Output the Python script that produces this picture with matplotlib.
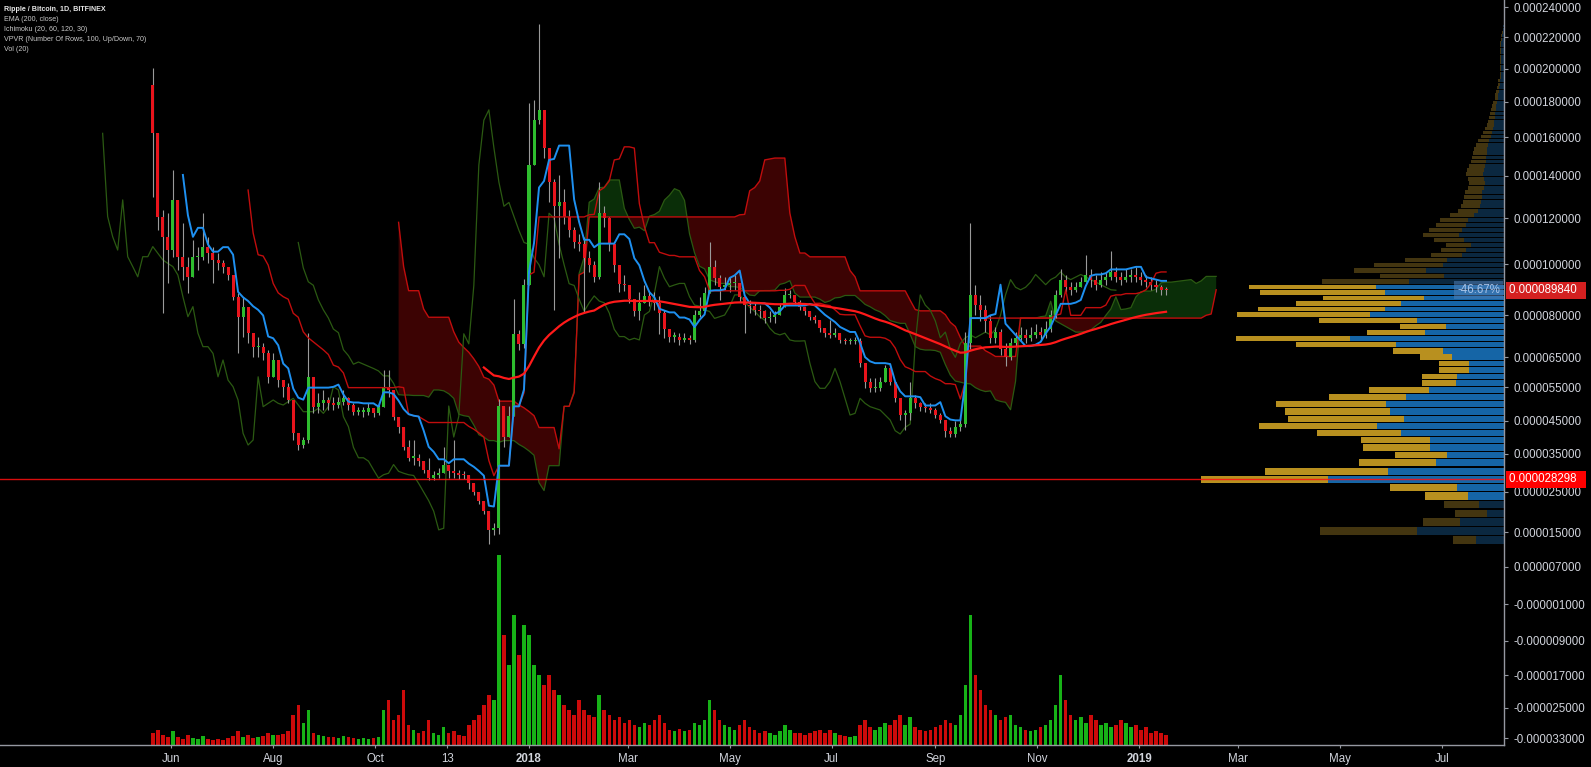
import numpy as np
import pandas as pd
import matplotlib
matplotlib.use('Agg')
import matplotlib.pyplot as plt
import matplotlib.dates as mdates
from matplotlib.transforms import blended_transform_factory as btf
from matplotlib.ticker import NullLocator

plt.rcParams['font.family'] = ['Liberation Sans', 'DejaVu Sans']

# ---------------- data (prices in units of 1e-6 BTC) ----------------
start_date = '2017-05-20'
bar_days = 3
open_first = 190.2
close = [162.1, 120.8, 112, 106.2, 128.7, 103.3, 99.1, 95.1, 103.3, 103.3,
         107.7, 104.8, 101.9, 100.4, 99.1, 95.8, 87.3, 79.5, 83.4, 73.6,
         68.8, 68.8, 66.4, 58.5, 64.1, 57.4, 55.2, 51.2, 41.2, 37.7,
         39.2, 58.5, 49.2, 50.2, 51.2, 50.2, 49.7, 50.7, 51.7, 49.7,
         47.7, 47.7, 47.7, 48.7, 47.2, 49.2, 55.2, 54.2, 46.2, 43.2,
         37, 34, 34, 33.1, 30.8, 28.6, 29.5, 29.9, 32.2, 30.4,
         29.9, 29.5, 29.3, 27.2, 24.9, 22.8, 20.2, 15.6, 16.0, 49.4,
         40.1, 46.3, 73.4, 69.8, 91.7, 145.6, 169.6, 175.5, 154.5, 137.1,
         125.7, 127.5, 120.8, 114.7, 109.5, 108.7, 102.8, 99.8, 95.1, 122.4,
         120, 108.7, 99.8, 92.4, 91.7, 86.3, 81.6, 84.9, 87.6, 85.6,
         84.9, 80.9, 75, 72.4, 72.4, 71.2, 71.8, 71.2, 80.1, 81.5,
         88.6, 99.1, 94.5, 91.2, 91.9, 92.5, 92.5, 87.3, 84, 83.6,
         82.1, 81.5, 78.9, 79.5, 80.1, 83.4, 88, 88, 85.3, 83.1,
         81.5, 79.5, 78.3, 75.4, 73.6, 73, 73.6, 71.2, 70.8, 70.8,
         70.9, 63, 56.9, 54.7, 54.7, 56.9, 61.3, 56.9, 51.7, 46.7,
         47.2, 51.7, 50.2, 49.2, 48.7, 48.2, 46.7, 45.2, 42, 41,
         43, 44, 70, 88, 84, 82, 78, 72, 74, 68,
         65, 70, 72, 73, 72, 73, 74, 73, 75, 80,
         88, 94, 91, 90, 91, 93, 96, 94, 92, 94,
         95, 97, 95, 94, 95, 96, 95, 94, 93, 92,
         91, 90, 89.84]
high = [200.3, 158.5, 123.9, 122.5, 143.1, 120.8, 118, 103.3, 110.6, 107.7,
        122.4, 112, 107.7, 104.8, 101.9, 99.1, 93.8, 88.6, 87.3, 80.8,
        73.6, 72.4, 70, 67.6, 66.4, 63, 57.4, 56.3, 49.2, 40.2,
        40.2, 73.6, 56.3, 53.2, 54.2, 52.2, 52.2, 52.2, 54.2, 52.2,
        50.2, 49.2, 49.2, 50.2, 48.7, 50.2, 60.8, 60.8, 54.2, 46.2,
        42.2, 39.1, 39.1, 34.9, 32.2, 34, 30.4, 31.3, 37, 32.2,
        39.1, 30.8, 30.4, 29.5, 26.7, 24.9, 22.4, 19.8, 17.3, 51.5,
        46.3, 49.4, 86.3, 74.7, 94.4, 179.4, 181.5, 229, 175.5, 151,
        138.7, 140.4, 133.9, 123.7, 116.3, 113.3, 111.7, 105.8, 101.3, 137.1,
        125.7, 120.8, 105.8, 97.1, 95.7, 91.7, 86.3, 89, 91.7, 89,
        89, 87.6, 82.2, 74.1, 74.1, 73.6, 73.6, 73, 82.1, 87.3,
        91.2, 109.8, 101.9, 95.8, 95.1, 95.1, 95.8, 91.9, 87.3, 86,
        84.7, 84, 82.1, 81.5, 81.5, 84.7, 90.6, 89.9, 88, 86,
        83.4, 81.5, 80.1, 77.7, 75.4, 78.3, 75.4, 73.6, 71.8, 71.8,
        72.4, 71.8, 62.4, 58, 58, 58.5, 62.4, 61.9, 55.2, 51.2,
        48.2, 56.9, 52.7, 50.7, 50.2, 50.2, 48.7, 47.2, 45, 43,
        45, 46, 74, 118, 92, 88, 84, 80, 76, 75,
        70, 72, 74, 76, 75, 76, 77, 76, 78, 82,
        90, 98, 96, 93, 93, 95, 104, 98, 96, 97,
        97, 106, 99, 97, 98, 98, 99, 97, 96, 95,
        94, 92, 91]
low = [130.2, 114.9, 80.8, 92.7, 103.3, 97.8, 93.8, 88.6, 97.8, 97.8,
       101.9, 100.4, 92.5, 97.8, 96.5, 93.8, 86, 66.4, 72.4, 70,
       65.2, 65.2, 64.1, 56.3, 58.5, 55.2, 52.2, 50.2, 39.2, 36.2,
       36.7, 38.2, 47.2, 47.2, 48.2, 48.2, 48.2, 48.7, 49.7, 48.2,
       46.7, 46.7, 46.2, 46.7, 46.2, 46.7, 50.2, 52.2, 45.2, 41.2,
       36.2, 33.1, 32.2, 31.7, 29.9, 28.1, 28.1, 28.6, 30.4, 28.6,
       28.6, 28.4, 28.4, 25.8, 24.1, 21.9, 19.4, 12.3, 14.3, 14.7,
       37, 40.1, 46.3, 67.5, 68.5, 105.8, 147.4, 167.7, 149.2, 127.5,
       82.2, 102.8, 117.7, 111.7, 107.3, 105.8, 80.9, 97.1, 93.1, 94.4,
       116.2, 105.8, 97.1, 89, 89.7, 84.9, 79.6, 78.4, 84.9, 83.6,
       82.2, 73.4, 72, 70.6, 70.6, 69.4, 70.6, 69.8, 70.6, 79.5,
       81.5, 89.9, 91.9, 86, 89.9, 89.3, 89.9, 85.3, 73.6, 80.8,
       80.1, 78.9, 77.1, 77.7, 77.1, 80.8, 83.4, 86.7, 84.4, 82.1,
       80.1, 78.3, 77.1, 74.1, 72.4, 71.8, 72.1, 70.2, 69.8, 69.8,
       69.8, 61.9, 54.7, 53.7, 53.7, 54, 57.4, 55.8, 50.7, 45.2,
       42.2, 45.2, 48.7, 48, 47.7, 47.2, 45.7, 44.2, 40, 40,
       40, 42, 43, 68, 80, 78, 74, 70, 70, 66,
       62, 64, 69, 71, 70, 71, 72, 71, 72, 74,
       79, 87, 89, 88, 89, 91, 93, 91, 90, 91,
       92, 94, 93, 92, 93, 93, 93, 92, 91, 90,
       89, 88, 88]
volume = [12, 15, 10, 8, 14, 8, 6, 10, 7, 6,
          9, 6, 5, 6, 5, 7, 9, 14, 8, 10,
          7, 8, 9, 12, 10, 10, 11, 14, 30, 40,
          22, 35, 12, 10, 9, 8, 8, 7, 9, 8,
          7, 6, 7, 6, 7, 8, 35, 45, 25, 30,
          55, 20, 15, 12, 14, 25, 12, 10, 18, 12,
          14, 10, 9, 20, 25, 30, 40, 50, 45, 190,
          110, 80, 130, 90, 120, 110, 80, 70, 60, 70,
          55, 50, 40, 35, 30, 45, 35, 30, 28, 50,
          35, 30, 25, 28, 22, 25, 20, 18, 22, 20,
          25, 30, 22, 15, 14, 16, 14, 15, 22, 20,
          25, 45, 35, 25, 20, 18, 15, 20, 25, 18,
          15, 12, 14, 12, 10, 14, 20, 15, 12, 12,
          10, 12, 14, 15, 12, 15, 12, 10, 9, 8,
          9, 20, 25, 18, 15, 18, 22, 20, 25, 30,
          20, 28, 18, 15, 14, 15, 18, 20, 25, 22,
          20, 30, 60, 130, 70, 55, 40, 35, 30, 25,
          28, 30, 20, 18, 15, 14, 15, 18, 20, 25,
          40, 70, 45, 30, 25, 28, 22, 30, 25, 20,
          22, 18, 20, 25, 22, 18, 20, 15, 18, 12,
          14, 12, 10]

# Visible-range volume profile: 100 rows, up / down volume per row
vp_low, vp_high, vp_rows = 12.06, 228.56, 100
vp_up = [28, 87, 44, 17, 25, 36, 47, 176, 116, 68,
         57, 74, 74, 103, 127, 100, 114, 118, 98, 75,
         48, 47, 35, 35, 52, 61, 108, 154, 79, 58,
         87, 134, 119, 103, 80, 119, 128, 95, 60, 78,
         61, 57, 42, 38, 33, 40, 45, 42, 38, 36,
         30, 26, 24, 23, 22, 22, 20, 19, 20, 21,
         20, 19, 18, 18, 17, 17, 16, 15, 13, 12,
         11, 10, 10, 9, 9, 8, 8, 7, 6, 6,
         5, 5, 4, 4, 3, 3, 3, 3, 3, 3,
         3, 3, 3, 3, 3, 2, 2, 1, 1, 1]
vp_down = [23, 97, 37, 32, 35, 43, 67, 127, 123, 77,
           52, 67, 69, 84, 118, 116, 105, 110, 77, 60,
           34, 35, 30, 30, 32, 50, 100, 114, 58, 46,
           98, 133, 127, 105, 101, 125, 127, 87, 64, 72,
           69, 42, 31, 25, 25, 30, 36, 33, 30, 28,
           24, 20, 19, 18, 18, 17, 16, 16, 16, 17,
           17, 16, 15, 14, 14, 13, 12, 11, 10, 9,
           8, 7, 6, 6, 5, 5, 4, 4, 3, 3,
           3, 2, 2, 2, 1, 1, 1, 1, 1, 1,
           1, 1, 1, 1, 1, 1, 1, 1, 0, 0]
va_first_row, va_last_row = 5, 36
poc_price = 28.298
last_price = 89.84
range_label = '-46.67%'

ema_len_days = 200
ichi_days = (20, 60, 120, 30)

y_ticks = [-33, -25, -17, -9, -1, 7, 15, 25, 35, 45, 55, 65, 80, 100, 120,
           140, 160, 180, 200, 220, 240]
x_tick_dates = ['2017-06-01', '2017-08-01', '2017-10-01', '2017-11-13', '2018-01-01',
                '2018-03-01', '2018-05-01', '2018-07-01', '2018-09-01', '2018-11-01',
                '2019-01-01', '2019-03-01', '2019-05-01', '2019-07-01']
x_tick_labels = ['Jun', 'Aug', 'Oct', '13', '2018', 'Mar', 'May', 'Jul', 'Sep', 'Nov',
                 '2019', 'Mar', 'May', 'Jul']
legend_lines = ['Ripple / Bitcoin, 1D, BITFINEX', 'EMA (200, close)',
                'Ichimoku (20, 60, 120, 30)', 'VPVR (Number Of Rows, 100, Up/Down, 70)',
                'Vol (20)']

# ---------------- derived series ----------------
c = np.array(close, float)
o = np.concatenate([[open_first], c[:-1]])
h = np.maximum.reduce([np.array(high, float), o, c])
l = np.minimum.reduce([np.array(low, float), o, c])
v = np.array(volume, float)
n = len(c)
assert len(h) == n and len(l) == n and len(v) == n, (len(h), len(l), len(v), n)

t0 = pd.Timestamp(start_date)
day0 = mdates.date2num(t0)
x_mid = day0 + np.arange(n) * bar_days + (bar_days - 1) / 2

H = pd.Series(h); L = pd.Series(l)
def mid(p):
    return ((H.rolling(p).max() + L.rolling(p).min()) / 2).values
conv_n, base_n, spanb_n = [max(1, round(d / bar_days)) for d in ichi_days[:3]]
disp = ichi_days[3]
conv = mid(conv_n)
base = mid(base_n)
leadA = (conv + base) / 2
leadB = mid(spanb_n)

ema_n = round(ema_len_days / bar_days)
alpha = 2 / (ema_n + 1)
ema = np.full(n, np.nan)
ema[ema_n - 1] = c[:ema_n].mean()
for i in range(ema_n, n):
    ema[i] = alpha * c[i] + (1 - alpha) * ema[i - 1]

# ---------------- figure / scales ----------------
W, Hpx = 1591, 767
fig = plt.figure(figsize=(W / 100, Hpx / 100), dpi=100, facecolor='black')
rect = [0, 22 / Hpx, 1504 / W, 745 / Hpx]
ax_v = fig.add_axes(rect, label='vol')
ax_vp = fig.add_axes(rect, label='vp')
ax = fig.add_axes(rect, label='main')
ax_v.set_facecolor('black')
ax_vp.patch.set_visible(False)
ax.patch.set_visible(False)

# price-axis calibration (value -> pixel row from top), as in the TradingView scale
cal_vals = np.array([-60] + y_ticks + [300], float)
cal_rows = np.array([840.6, 738.3, 708, 675.3, 640.7, 604.3, 566.7, 532.3, 491.7, 454,
                     420.7, 387.3, 357.3, 315.3, 264.3, 218.3, 176, 137, 102, 68.7,
                     37.3, 7.3, -82.7])
fwd = lambda y: np.interp(y, cal_vals, -cal_rows)
inv = lambda t: np.interp(t, -cal_rows, cal_vals)
ylim = (float(inv(-745)), float(inv(0)))
for a in (ax, ax_vp):
    a.set_yscale('function', functions=(fwd, inv))
    a.set_ylim(*ylim)

jan1 = mdates.date2num(pd.Timestamp('2018-01-01'))
px_per_day = 1.672
xlim = (jan1 - 529 / px_per_day, jan1 + (1504 - 529) / px_per_day)
ax.set_xlim(*xlim)
ax_v.set_xlim(*xlim)

# ---------------- volume ----------------
up = c >= o
vcol = np.where(up, '#17b217', '#cc0a0a')
ax_v.bar(x_mid, v, width=bar_days * 0.7, align='center', color=vcol, linewidth=0)
ax_v.set_ylim(0, 745)
ax_v.axis('off')

# ---------------- volume profile ----------------
row_h = (vp_high - vp_low) / vp_rows
rows = np.arange(vp_rows)
centers = vp_low + (rows + 0.5) * row_h
in_va = (rows >= va_first_row) & (rows <= va_last_row)
up_col = np.where(in_va, '#1565a6', '#0b2840')
dn_col = np.where(in_va, '#b8901f', '#433510')
ax_vp.barh(centers, vp_up, height=row_h * 0.86, left=0, color=up_col, linewidth=0)
ax_vp.barh(centers, vp_down, height=row_h * 0.86, left=vp_up, color=dn_col, linewidth=0)
ax_vp.set_xlim(1504, 0)
ax_vp.axis('off')

# ---------------- Ichimoku ----------------
xa = x_mid + disp
ok = ~np.isnan(leadA) & ~np.isnan(leadB)
ax.fill_between(xa[ok], leadA[ok], leadB[ok], where=(leadA[ok] >= leadB[ok]),
                interpolate=True, color='#0a2e08', linewidth=0, zorder=1)
ax.fill_between(xa[ok], leadA[ok], leadB[ok], where=(leadA[ok] < leadB[ok]),
                interpolate=True, color='#3c0303', linewidth=0, zorder=1)
ax.plot(xa, leadA, color='#2b5a12', lw=0.9, zorder=2)
ax.plot(xa, leadB, color='#c00d0d', lw=1.0, zorder=2)
ax.plot(x_mid - disp, c, color='#2b5a12', lw=0.9, zorder=2)
ax.plot(x_mid, base, color='#c00d0d', lw=1.0, zorder=4)
ax.plot(x_mid, conv, color='#1e90f0', lw=1.4, zorder=4)

# ---------------- candles ----------------
ax.vlines(x_mid, l, h, color='#9a9a9a', lw=0.8, zorder=3)
body_lo = np.minimum(o, c)
body_h = np.maximum(np.abs(c - o), 0.4)
ccol = np.where(up, '#2ebd2e', '#e8141c')
ax.bar(x_mid, body_h, bottom=body_lo, width=bar_days * 0.6, color=ccol, linewidth=0, zorder=3)

# ---------------- EMA ----------------
ax.plot(x_mid, ema, color='#ff1a1a', lw=1.6, zorder=5)

# ---------------- POC line ----------------
ax.axhline(poc_price, color='#ff1010', lw=1.0, alpha=0.85, zorder=6)

# ---------------- axes styling ----------------
for s in ('top', 'left'):
    ax.spines[s].set_visible(False)
for s in ('right', 'bottom'):
    ax.spines[s].set_color('#9598a1')
    ax.spines[s].set_linewidth(1.0)
ax.yaxis.tick_right()
ax.set_yticks(y_ticks)
ax.set_yticklabels([f'{t * 1e-6:.9f}' for t in y_ticks])
ax.yaxis.set_minor_locator(NullLocator())
ax.tick_params(axis='y', colors='#9598a1', labelcolor='#d1d4dc', labelsize=8.3,
               length=3, width=0.8, pad=4)
ax.set_xticks(mdates.date2num(pd.to_datetime(x_tick_dates)))
ax.set_xticklabels(x_tick_labels)
ax.xaxis.set_minor_locator(NullLocator())
ax.tick_params(axis='x', colors='#9598a1', labelcolor='#d1d4dc', labelsize=8.3,
               length=2, width=0.8, pad=4)
for lab in ax.get_xticklabels():
    if lab.get_text() in ('2018', '2019'):
        lab.set_fontweight('bold')

# ---------------- price labels ----------------
bt = btf(ax.transAxes, ax.transData)
ax.text(1.0 + 5 / 1504, last_price, f'{last_price * 1e-6:.9f}  ', transform=bt, ha='left',
        va='center', fontsize=8.3, color='white', clip_on=False, zorder=10,
        bbox=dict(boxstyle='square,pad=0.22', fc='#d42020', ec='none'))
ax.text(1.0 + 5 / 1504, poc_price, f'{poc_price * 1e-6:.9f}  ', transform=bt, ha='left',
        va='center', fontsize=8.3, color='white', clip_on=False, zorder=10,
        bbox=dict(boxstyle='square,pad=0.22', fc='#ff0000', ec='none'))
ax.text(1.0 - 4 / 1504, last_price, range_label, transform=bt, ha='right', va='center',
        fontsize=8.3, color='#a9c4e8', zorder=9,
        bbox=dict(boxstyle='square,pad=0.25', fc='#4f7fb8', ec='none', alpha=0.55))

# ---------------- legend text ----------------
for i, t in enumerate(legend_lines):
    fig.text(4 / W, 1 - (9.3 + 10 * i) / Hpx, t, ha='left', va='center', fontsize=5.1,
             color='#e8e8e8' if i == 0 else '#c8c8c8', fontweight='bold' if i == 0 else 'normal')

fig.savefig('out.png', dpi=100, facecolor='black')
